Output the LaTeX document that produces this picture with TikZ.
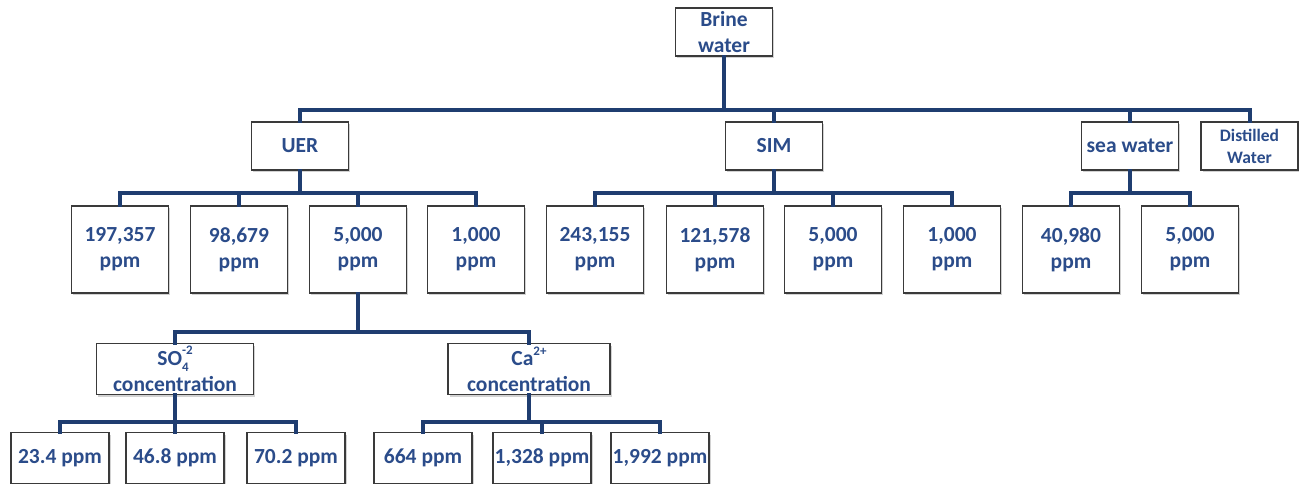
\documentclass[tikz,border=0pt]{standalone}
\usepackage{fontspec}
\setmainfont{Carlito}
\usetikzlibrary{shadows}
\definecolor{txtblue}{HTML}{2B4C8A}
\definecolor{lineblue}{HTML}{1F3D70}
\definecolor{boxgray}{HTML}{3A3A3A}
\newcommand{\smallfig}[1]{{\fontsize{13}{13}\selectfont #1}}
\tikzset{
  box/.style={draw=boxgray, line width=1.4pt, fill=white, inner sep=0pt,
    align=center, text=txtblue, font=\bfseries\fontsize{21.5}{26}\selectfont,
    drop shadow={shadow xshift=1.5pt, shadow yshift=-2pt, fill=black!35}},
  lvlone/.style={box, minimum width=97pt, minimum height=48pt},
  lvltwo/.style={box, minimum width=97pt, minimum height=87pt},
  lvlthree/.style={box, minimum height=51pt},
  lvlfour/.style={box, minimum width=98pt, minimum height=51pt},
  conn/.style={draw=lineblue, line width=4pt, line cap=rect}
}
\begin{document}
\begin{tikzpicture}[x=1pt,y=-1pt]
\useasboundingbox (0,0) rectangle (1299,484);
\coordinate (b1) at (0,110);
\coordinate (b2) at (0,193);
\coordinate (b3) at (0,332);
\coordinate (b4) at (0,422);
% nodes
\node[lvlone] (brine) at (724,32) {Brine\\water};
\node[lvlone] (uer) at (300,146) {UER};
\node[lvlone] (sim) at (774,146) {SIM};
\node[lvlone] (sea) at (1130,146) {sea water};
\node[lvlone, font=\bfseries\fontsize{17.5}{22}\selectfont] (dist) at (1249.5,146) {Distilled\\Water};
\node[lvltwo] (u1) at (120,249.5) {197,357\\ppm};
\node[lvltwo] (u2) at (239,249.5) {98,679\\ppm};
\node[lvltwo] (u3) at (358,249.5) {5,000\\ppm};
\node[lvltwo] (u4) at (476,249.5) {1,000\\ppm};
\node[lvltwo] (s1) at (595,249.5) {243,155\\ppm};
\node[lvltwo] (s2) at (715,249.5) {121,578\\ppm};
\node[lvltwo] (s3) at (833,249.5) {5,000\\ppm};
\node[lvltwo] (s4) at (952,249.5) {1,000\\ppm};
\node[lvltwo] (w1) at (1071,249.5) {40,980\\ppm};
\node[lvltwo] (w2) at (1190,249.5) {5,000\\ppm};
\node[lvlthree, minimum width=157pt] (so) at (175,369) {SO\rlap{\raisebox{-5.5pt}{\smallfig{4}}}\raisebox{11pt}{\smallfig{-2}}\\concentration};
\node[lvlthree, minimum width=162pt] (ca) at (529,369) {Ca\raisebox{10pt}{\smallfig{2+}}\\concentration};
\node[lvlfour] (o1) at (60,458) {23.4 ppm};
\node[lvlfour] (o2) at (175,458) {46.8 ppm};
\node[lvlfour] (o3) at (296,458) {70.2 ppm};
\node[lvlfour] (c1) at (423,458) {664 ppm};
\node[lvlfour] (c2) at (542,458) {1,328 ppm};
\node[lvlfour] (c3) at (660,458) {1,992 ppm};
% connectors
\foreach \c in {uer,sim,sea,dist}
  \draw[conn] (brine.south) -- (brine.south |- b1) -| (\c.north);
\foreach \c in {u1,u2,u3,u4}
  \draw[conn] (uer.south) -- (uer.south |- b2) -| (\c.north);
\foreach \c in {s1,s2,s3,s4}
  \draw[conn] (sim.south) -- (sim.south |- b2) -| (\c.north);
\foreach \c in {w1,w2}
  \draw[conn] (sea.south) -- (sea.south |- b2) -| (\c.north);
\foreach \c in {so,ca}
  \draw[conn] (u3.south) -- (u3.south |- b3) -| (\c.north);
\foreach \c in {o1,o2,o3}
  \draw[conn] (so.south) -- (so.south |- b4) -| (\c.north);
\foreach \c in {c1,c2,c3}
  \draw[conn] (ca.south) -- (ca.south |- b4) -| (\c.north);
\end{tikzpicture}
\end{document}
